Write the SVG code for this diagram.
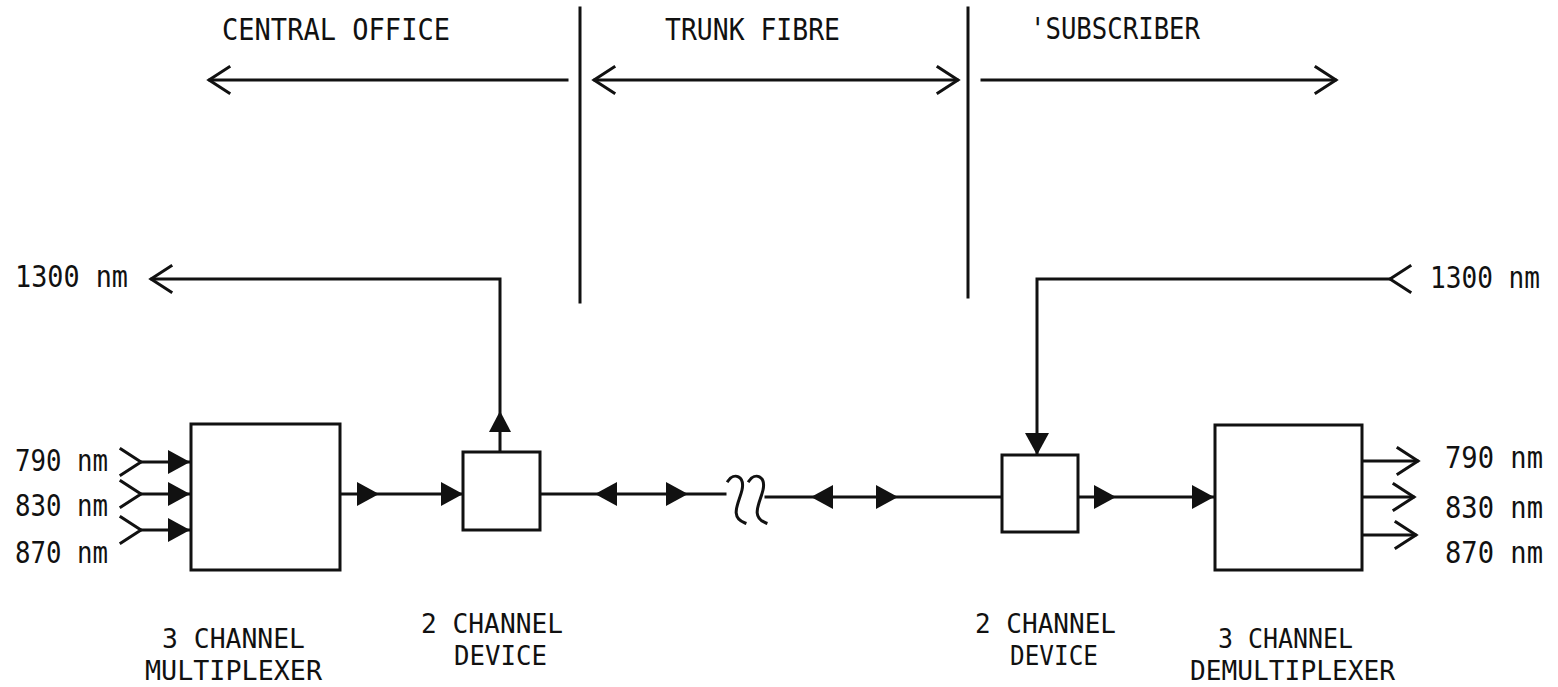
<svg xmlns="http://www.w3.org/2000/svg" xmlns:xlink="http://www.w3.org/1999/xlink" width="1558" height="687" viewBox="0 0 1558 687">
<style>
.ln{stroke:#111;stroke-width:3;fill:none;stroke-linecap:square}
.bx{stroke:#111;stroke-width:3;fill:#fff}
.tf{fill:#111;stroke:none}
.t{font-family:"DejaVu Sans Mono","Liberation Mono",monospace;font-size:30px;fill:#111}
.b{font-size:26px}
</style>
<defs>
<path id="triR" d="M-22,-12 L0,0 L-22,12 Z" class="tf"/>
<path id="triL" d="M22,-12 L0,0 L22,12 Z" class="tf"/>
<path id="triU" d="M-11,21 L0,0 L11,21 Z" class="tf"/>
<path id="triD" d="M-12,-22 L0,0 L12,-22 Z" class="tf"/>
<path id="chR" d="M-20,-13 L0,0 L-20,13" class="ln" stroke-linecap="round"/>
<path id="chL" d="M20,-13 L0,0 L20,13" class="ln" stroke-linecap="round"/>
</defs>
<rect width="1558" height="687" fill="#fff"/>

<g id="regions">
<line class="ln" x1="580" y1="8" x2="580" y2="302"/>
<line class="ln" x1="968" y1="8" x2="968" y2="297"/>
<text class="t" x="222" y="40" textLength="228" lengthAdjust="spacingAndGlyphs">CENTRAL OFFICE</text>
<text class="t" x="665" y="40" textLength="175" lengthAdjust="spacingAndGlyphs">TRUNK FIBRE</text>
<text class="t" x="1030" y="39" textLength="170" lengthAdjust="spacingAndGlyphs">'SUBSCRIBER</text>
<line class="ln" x1="210" y1="80" x2="567" y2="80"/>
<use xlink:href="#chL" x="209" y="80"/>
<line class="ln" x1="595" y1="80" x2="957" y2="80"/>
<use xlink:href="#chL" x="594" y="80"/>
<use xlink:href="#chR" x="958" y="80"/>
<line class="ln" x1="982" y1="80" x2="1335" y2="80"/>
<use xlink:href="#chR" x="1336" y="80"/>
</g>

<g id="connectors">
<polyline class="ln" points="152,279 500,279 500,452"/>
<use xlink:href="#chL" x="151" y="279"/>
<use xlink:href="#triU" x="500" y="411"/>
<line class="ln" x1="141" y1="462" x2="190" y2="462"/>
<line class="ln" x1="141" y1="494" x2="190" y2="494"/>
<line class="ln" x1="141" y1="530" x2="190" y2="530"/>
<use xlink:href="#chR" x="141" y="462"/>
<use xlink:href="#chR" x="141" y="494"/>
<use xlink:href="#chR" x="141" y="530"/>
<use xlink:href="#triR" x="190" y="462"/>
<use xlink:href="#triR" x="190" y="494"/>
<use xlink:href="#triR" x="190" y="530"/>
<line class="ln" x1="340" y1="494" x2="463" y2="494"/>
<use xlink:href="#triR" x="379" y="494"/>
<use xlink:href="#triR" x="463" y="494"/>
<line class="ln" x1="540" y1="494" x2="725" y2="494"/>
<line class="ln" x1="766" y1="497" x2="1002" y2="497"/>
<path class="ln" stroke-width="3.5" d="M728,481 C734,472 745,476 742,490 C739,503 729,517 745,523"/>
<path class="ln" stroke-width="3.5" d="M749,481 C755,472 766,476 763,490 C760,503 750,517 766,523"/>
<use xlink:href="#triL" x="595" y="494"/>
<use xlink:href="#triR" x="688" y="494"/>
<use xlink:href="#triL" x="811" y="497"/>
<use xlink:href="#triR" x="898" y="497"/>
<polyline class="ln" points="1390,279 1037,279 1037,453"/>
<use xlink:href="#chL" x="1390" y="279"/>
<use xlink:href="#triD" x="1037" y="455"/>
<line class="ln" x1="1078" y1="497" x2="1214" y2="497"/>
<use xlink:href="#triR" x="1116" y="497"/>
<use xlink:href="#triR" x="1214" y="497"/>
<line class="ln" x1="1362" y1="461" x2="1417" y2="461"/>
<line class="ln" x1="1362" y1="497" x2="1413" y2="497"/>
<line class="ln" x1="1362" y1="535" x2="1415" y2="535"/>
<use xlink:href="#chR" x="1418" y="461"/>
<use xlink:href="#chR" x="1414" y="497"/>
<use xlink:href="#chR" x="1416" y="535"/>
</g>

<g id="labels-left">
<text class="t" x="15" y="287" textLength="113" lengthAdjust="spacingAndGlyphs">1300 nm</text>
<text class="t" x="15" y="471" textLength="93" lengthAdjust="spacingAndGlyphs">790 nm</text>
<text class="t" x="15" y="516" textLength="93" lengthAdjust="spacingAndGlyphs">830 nm</text>
<text class="t" x="15" y="563" textLength="93" lengthAdjust="spacingAndGlyphs">870 nm</text>
</g>
<g id="labels-right">
<text class="t" x="1430" y="288" textLength="110" lengthAdjust="spacingAndGlyphs">1300 nm</text>
<text class="t" x="1445" y="468" textLength="98" lengthAdjust="spacingAndGlyphs">790 nm</text>
<text class="t" x="1445" y="518" textLength="98" lengthAdjust="spacingAndGlyphs">830 nm</text>
<text class="t" x="1445" y="563" textLength="98" lengthAdjust="spacingAndGlyphs">870 nm</text>
</g>

<g id="mux">
<rect class="bx" x="191" y="424" width="149" height="146"/>
<text class="t b" x="162" y="648" textLength="143" lengthAdjust="spacingAndGlyphs">3 CHANNEL</text>
<text class="t b" x="145" y="680" textLength="177" lengthAdjust="spacingAndGlyphs">MULTIPLEXER</text>
</g>
<g id="device-co">
<rect class="bx" x="463" y="452" width="77" height="78"/>
<text class="t b" x="421" y="633" textLength="142" lengthAdjust="spacingAndGlyphs">2 CHANNEL</text>
<text class="t b" x="454" y="665" textLength="93" lengthAdjust="spacingAndGlyphs">DEVICE</text>
</g>
<g id="device-sub">
<rect class="bx" x="1002" y="455" width="76" height="77"/>
<text class="t b" x="975" y="633" textLength="141" lengthAdjust="spacingAndGlyphs">2 CHANNEL</text>
<text class="t b" x="1010" y="665" textLength="88" lengthAdjust="spacingAndGlyphs">DEVICE</text>
</g>
<g id="demux">
<rect class="bx" x="1215" y="425" width="147" height="145"/>
<text class="t b" x="1218" y="648" textLength="135" lengthAdjust="spacingAndGlyphs">3 CHANNEL</text>
<text class="t b" x="1190" y="680" textLength="205" lengthAdjust="spacingAndGlyphs">DEMULTIPLEXER</text>
</g>
</svg>
